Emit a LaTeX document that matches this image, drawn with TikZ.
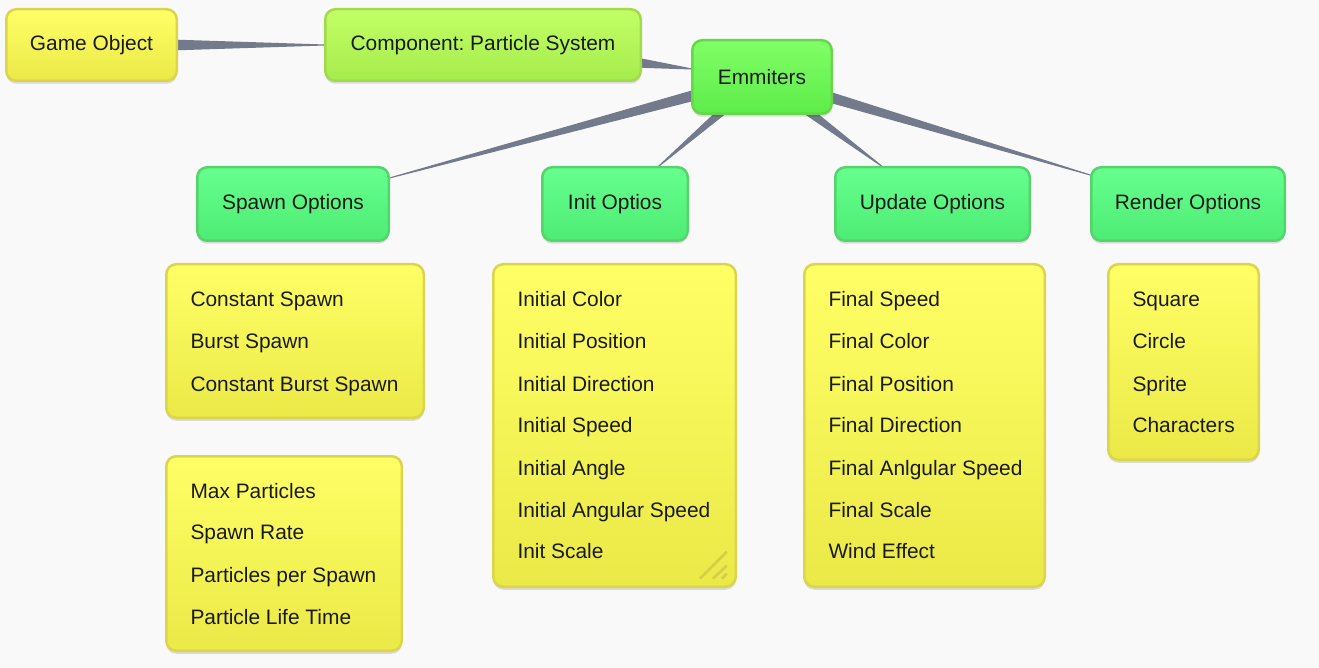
\documentclass[tikz,border=0pt]{standalone}
\usepackage{fontspec}
\setmainfont{Liberation Sans}
\frenchspacing
\usetikzlibrary{calc,shadows,backgrounds}
\definecolor{bgcol}{HTML}{F9F9FA}
\definecolor{conncol}{HTML}{737A8C}
\definecolor{txtcol}{HTML}{1A1A1A}
\definecolor{yTop}{HTML}{FFFF66}
\definecolor{yBot}{HTML}{EBE947}
\definecolor{yBrd}{HTML}{DCD54C}
\definecolor{cTop}{HTML}{C2FF66}
\definecolor{cBot}{HTML}{A6EC4C}
\definecolor{cBrd}{HTML}{A3D94D}
\definecolor{eTop}{HTML}{80FF66}
\definecolor{eBot}{HTML}{5EEC4A}
\definecolor{eBrd}{HTML}{66D64A}
\definecolor{oTop}{HTML}{66FF8F}
\definecolor{oBot}{HTML}{4DEC73}
\definecolor{oBrd}{HTML}{55D46C}
\definecolor{handle}{RGB}{212,206,72}
\tikzset{
  box/.style={rectangle, rounded corners=10pt, line width=2.5pt, inner sep=0pt, outer sep=0pt,
    text=txtcol, font=\fontsize{20.9}{24}\selectfont,
    drop shadow={shadow xshift=0pt, shadow yshift=-3pt, opacity=0.12, fill=black}},
  yellowbox/.style={box, draw=yBrd, top color=yTop, middle color=yTop, bottom color=yBot},
  compbox/.style={box, draw=cBrd, top color=cTop, middle color=cTop, bottom color=cBot},
  emmbox/.style={box, draw=eBrd, top color=eTop, middle color=eTop, bottom color=eBot},
  optbox/.style={box, draw=oBrd, top color=oTop, middle color=oTop, bottom color=oBot},
  item/.style={anchor=base west, inner sep=0pt, outer sep=0pt, text=txtcol, font=\fontsize{20.9}{24}\selectfont},
}
\newcommand\conn[3][5.2]{%
  \path (#2) -- (#3) coordinate[pos=0] (#2#3s) coordinate[pos=1] (#2#3t);
  \coordinate (#2#3S) at ($(#2#3s)!-6pt!(#2#3t)$);
  \fill[conncol] ($(#2#3S)!#1pt!90:(#2#3t)$) -- ($(#2#3t)!0.5pt!-90:(#2#3S)$)
     -- ($(#2#3t)!0.5pt!90:(#2#3S)$) -- ($(#2#3S)!#1pt!-90:(#2#3t)$) -- cycle;
}
\begin{document}
\begin{tikzpicture}[x=1pt,y=-1pt]
\useasboundingbox (0,0) rectangle (1319,668);
% top row
\node[yellowbox, minimum width=170.5pt, minimum height=71.5pt] (go) at (91.5,45) {Game Object};
\node[compbox, minimum width=315.5pt, minimum height=71.5pt] (comp) at (483,45) {Component: Particle System};
\node[emmbox, minimum width=139.5pt, minimum height=73.5pt] (emm) at (762,77) {Emmiters};
% option row
\node[optbox, minimum width=191.5pt, minimum height=73.5pt] (spawn) at (293,204) {Spawn Options};
\node[optbox, minimum width=145.5pt, minimum height=73.5pt] (init) at (615,204) {Init Optios};
\node[optbox, minimum width=194.5pt, minimum height=73.5pt] (update) at (932.5,204) {Update Options};
\node[optbox, minimum width=193.5pt, minimum height=73.5pt] (render) at (1188,204) {Render Options};
% list boxes
\node[yellowbox, minimum width=257.5pt, minimum height=153.5pt] (sl) at (295,341) {};
\node[yellowbox, minimum width=235.5pt, minimum height=194.5pt] (sm) at (284,553.5) {};
\node[yellowbox, minimum width=242.5pt, minimum height=322.5pt] (il) at (614.5,425.5) {};
\node[yellowbox, minimum width=240.5pt, minimum height=322.5pt] (ul) at (924.5,425.5) {};
\node[yellowbox, minimum width=150.5pt, minimum height=195.5pt] (rl) at (1183.5,362) {};
% spawn list 1
\node[item] (sl1) at (190.5,306) {Constant Spawn};
\node[item] (sl2) at (190.5,348) {Burst Spawn};
\node[item] (sl3) at (190.5,391) {Constant Burst Spawn};
% spawn list 2
\node[item] (sm1) at (190.5,498) {Max Particles};
\node[item] (sm2) at (190.5,539) {Spawn Rate};
\node[item] (sm3) at (190.5,582) {Particles per Spawn};
\node[item] (sm4) at (190.5,624) {Particle Life Time};
% init list
\node[item] (il1) at (517.5,306) {Initial Color};
\node[item] (il2) at (517.5,348) {Initial Position};
\node[item] (il3) at (517.5,391) {Initial Direction};
\node[item] (il4) at (517.5,432) {Initial Speed};
\node[item] (il5) at (517.5,475) {Initial Angle};
\node[item] (il6) at (517.5,517) {Initial Angular Speed};
\node[item] (il7) at (517.5,558) {Init Scale};
% update list
\node[item] (ul1) at (828.5,306) {Final Speed};
\node[item] (ul2) at (828.5,348) {Final Color};
\node[item] (ul3) at (828.5,391) {Final Position};
\node[item] (ul4) at (828.5,432) {Final Direction};
\node[item] (ul5) at (828.5,475) {Final Anlgular Speed};
\node[item] (ul6) at (828.5,517) {Final Scale};
\node[item] (ul7) at (828.5,558) {Wind Effect};
% render list
\node[item] (rl1) at (1132.5,306) {Square};
\node[item] (rl2) at (1132.5,348) {Circle};
\node[item] (rl3) at (1132.5,391) {Sprite};
\node[item] (rl4) at (1132.5,432) {Characters};
% resize handle
\draw[handle, line width=2.6pt] ($(il.south east)+(-9,-35)$) -- ($(il.south east)+(-36,-8)$);
\draw[handle, line width=2.6pt] ($(il.south east)+(-9,-21)$) -- ($(il.south east)+(-23,-8)$);
\draw[handle, line width=2.6pt] ($(il.south east)+(-9,-13)$) -- ($(il.south east)+(-14,-8)$);
% background and connectors
\begin{pgfonlayer}{background}
\fill[bgcol] (0,0) rectangle (1319,668);
\conn[5.5]{go}{comp}
\conn[5.2]{comp}{emm}
\conn[5.4]{emm}{spawn}
\conn[4.2]{emm}{init}
\conn[4.4]{emm}{update}
\conn[5.4]{emm}{render}
\end{pgfonlayer}
\end{tikzpicture}
\end{document}
